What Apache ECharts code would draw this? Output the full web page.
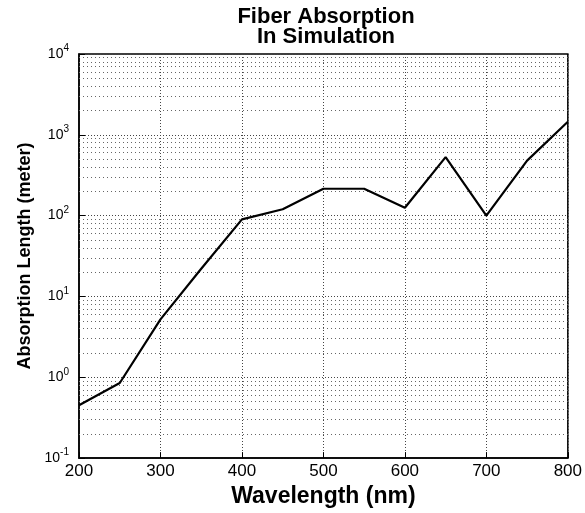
<!DOCTYPE html>
<html>
<head>
<meta charset="utf-8">
<style>
  html, body { margin: 0; padding: 0; background: #fff; }
  #chart { width: 585px; height: 513px; }
</style>
<script src="https://cdn.jsdelivr.net/npm/echarts@6/dist/echarts.min.js"></script>
</head>
<body>
<div id="chart"></div>
<script>
// Simulated absorption length of the fiber versus wavelength
const wavelengths = [200, 250, 300, 350, 400, 450, 500, 550, 600, 650, 700, 750, 800];
const absorptionLength = [0.45, 0.85, 5.2, 22, 90, 120, 215, 215, 125, 530, 100, 480, 1450];

// Axis extents and decade ticks
const xRange = [200, 800];
const xStep = 100;
const yDecades = [0.1, 1, 10, 100, 1000, 10000];
const minorMultipliers = [2, 3, 4, 5, 6, 7, 8, 9];

// Minor log grid values (2..9 within each decade)
const minorGridValues = [];
for (let i = 0; i < yDecades.length - 1; i++) {
  minorMultipliers.forEach(m => minorGridValues.push(+(m * yDecades[i]).toPrecision(3)));
}

const FONT = '"Liberation Sans", Arial, Helvetica, sans-serif';
const gridDots = { color: '#444', width: 1, type: [1, 2] };
const minorDots = { color: '#666', width: 1, type: [1, 3] };

const chart = echarts.init(document.getElementById('chart'), null, { renderer: 'canvas' });

chart.setOption({
  animation: false,
  backgroundColor: '#fff',
  title: {
    text: 'Fiber Absorption\nIn Simulation',
    left: 321,
    top: 2,
    textAlign: 'center',
    textStyle: {
      fontFamily: FONT,
      fontWeight: 'bold',
      fontSize: 22,
      lineHeight: 20,
      color: '#000'
    }
  },
  grid: {
    left: 79,
    right: 17,
    top: 54,
    bottom: 43,
    show: true,
    borderColor: '#000',
    borderWidth: 1.5,
    backgroundColor: '#fff'
  },
  xAxis: {
    type: 'value',
    min: xRange[0],
    max: xRange[1],
    interval: xStep,
    name: 'Wavelength (nm)',
    nameLocation: 'middle',
    nameGap: 15,
    nameTextStyle: {
      fontFamily: FONT,
      fontWeight: 'bold',
      fontSize: 23,
      color: '#000'
    },
    axisLine: { show: true, lineStyle: { color: '#000', width: 1.5 } },
    axisTick: { show: true, inside: true, length: 6, lineStyle: { color: '#000' } },
    axisLabel: {
      margin: 5,
      fontFamily: FONT,
      fontSize: 17,
      color: '#000'
    },
    splitLine: { show: true, lineStyle: gridDots }
  },
  yAxis: {
    type: 'log',
    logBase: 10,
    min: yDecades[0],
    max: yDecades[yDecades.length - 1],
    name: 'Absorption Length (meter)',
    nameLocation: 'middle',
    nameGap: 44,
    nameTextStyle: {
      fontFamily: FONT,
      fontWeight: 'bold',
      fontSize: 18,
      color: '#000'
    },
    axisLine: { show: true, lineStyle: { color: '#000', width: 1.5 } },
    axisTick: { show: true, inside: true, length: 6, lineStyle: { color: '#000' } },
    axisLabel: {
      margin: 10,
      formatter: function (v) {
        const e = Math.round(Math.log10(v));
        return '{b|10}{s|' + e + '}';
      },
      rich: {
        b: { fontFamily: FONT, fontSize: 14, color: '#000' },
        s: { fontFamily: FONT, fontSize: 10, color: '#000', padding: [0, 0, 11, 0] }
      }
    },
    splitLine: { show: true, lineStyle: gridDots }
  },
  series: [
    {
      type: 'line',
      data: wavelengths.map((w, i) => [w, absorptionLength[i]]),
      symbol: 'none',
      lineStyle: { color: '#000', width: 2.2 },
      z: 5,
      markLine: {
        silent: true,
        symbol: ['none', 'none'],
        label: { show: false },
        lineStyle: minorDots,
        data: minorGridValues.map(v => ({ yAxis: v }))
      }
    }
  ]
});
</script>
</body>
</html>
